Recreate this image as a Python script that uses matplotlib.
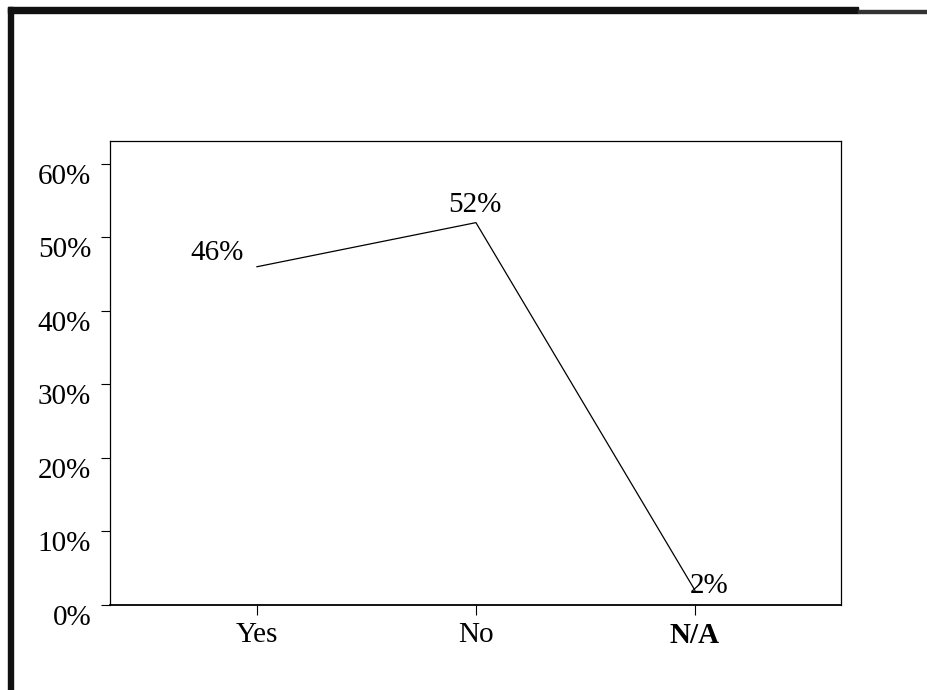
import matplotlib
matplotlib.use("Agg")
import matplotlib.pyplot as plt
from matplotlib.patches import Rectangle
from matplotlib.ticker import FuncFormatter

categories = ["Yes", "No", "N/A"]
values = [46, 52, 2]
value_labels = ["46%", "52%", "2%"]
y_ticks = [0, 10, 20, 30, 40, 50, 60]

# label offsets (points) relative to each data point, baseline-anchored
label_offsets = [(-29, 5), (-1, 8), (10, -2)]

plt.rcParams["font.family"] = ["Liberation Serif", "DejaVu Serif"]

fig = plt.figure(figsize=(9.28, 6.9), dpi=100)
fig.patch.set_facecolor("white")

# heavy frame along top and left edges
fig.patches.append(Rectangle((8 / 928, 0), 5 / 928, 1 - 7 / 690,
                             transform=fig.transFigure, color="#111111", zorder=0))
fig.patches.append(Rectangle((8 / 928, 1 - 13 / 690), 850 / 928, 6 / 690,
                             transform=fig.transFigure, color="#111111", zorder=0))
fig.patches.append(Rectangle((858 / 928, 1 - 13 / 690), 70 / 928, 3 / 690,
                             transform=fig.transFigure, color="#333333", zorder=0))

ax = fig.add_axes([110 / 928, 85 / 690, 731 / 928, 464 / 690])
x = list(range(len(categories)))
ax.plot(x, values, color="black", lw=0.9)

ax.set_xlim(-0.671, 2.667)
ax.set_ylim(0, 63.1)
ax.set_yticks(y_ticks)
ax.yaxis.set_major_formatter(FuncFormatter(lambda v, p: f"{v:.0f}%"))
ax.set_xticks(x)
ax.set_xticklabels(categories)

ax.tick_params(axis="y", direction="out", length=6.5, width=0.8, pad=7, labelsize=21)
ax.tick_params(axis="x", direction="out", length=7, width=0.8, pad=5.5, labelsize=21)
for lbl in ax.get_yticklabels():
    lbl.set_verticalalignment("top")
ax.get_xticklabels()[2].set_fontweight("bold")

for s in ["left", "right", "top"]:
    ax.spines[s].set_linewidth(0.9)
    ax.spines[s].set_color("black")
ax.spines["bottom"].set_linewidth(1.3)
ax.spines["bottom"].set_color("black")

for xi, v, txt, (dx, dy) in zip(x, values, value_labels, label_offsets):
    ax.annotate(txt, (xi, v), xytext=(dx, dy), textcoords="offset points",
                ha="center", va="baseline", fontsize=21)

fig.savefig("out.png", dpi=100)
